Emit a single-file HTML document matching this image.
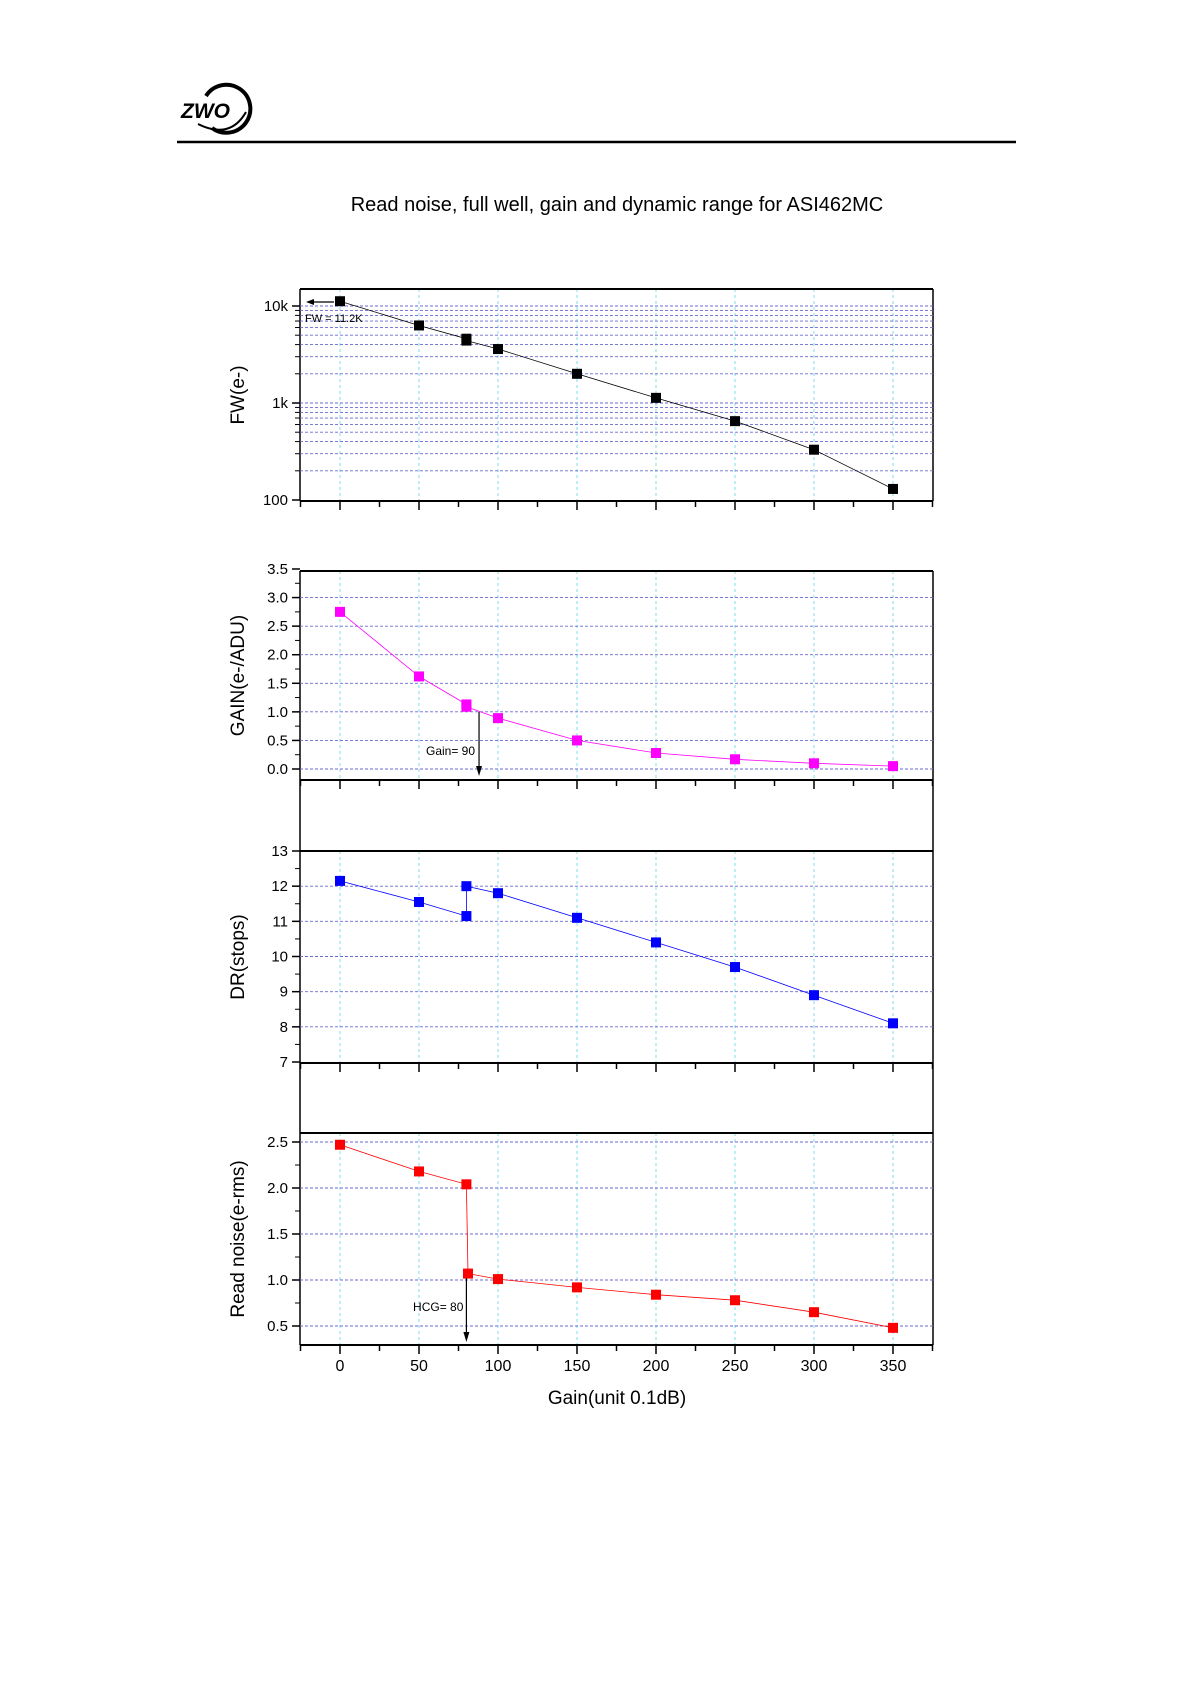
<!DOCTYPE html>
<html><head><meta charset="utf-8"><style>
html,body{margin:0;padding:0;background:#fff;}
svg{display:block;}
text{font-family:"Liberation Sans",sans-serif;}
</style></head><body>
<svg width="1191" height="1684" viewBox="0 0 1191 1684" xmlns="http://www.w3.org/2000/svg">
<!-- logo -->
<path d="M206 96 A24 24 0 1 1 212 128" fill="none" stroke="#000" stroke-width="4"/>
<path d="M198 124 Q230 140 246 112" fill="none" stroke="#000" stroke-width="2"/>
<text x="181" y="118" font-size="21" font-weight="bold" font-style="italic" fill="#000">ZWO</text>
<line x1="177" y1="142" x2="1016" y2="142" stroke="#000" stroke-width="2.5"/>
<text x="617" y="211" font-size="20" text-anchor="middle">Read noise, full well, gain and dynamic range for ASI462MC</text>
<g id="plots"></g>
</svg>
<script>
(function(){
var NS="http://www.w3.org/2000/svg",g=document.getElementById("plots");
function el(t,a,txt){var e=document.createElementNS(NS,t);for(var k in a)e.setAttribute(k,a[k]);if(txt!==undefined)e.textContent=txt;g.appendChild(e);return e;}
var L=300,R=933;function X(v){return 340+v*553/350;}
el("line",{x1:L,y1:289,x2:L,y2:501,stroke:"#000","stroke-width":1.5});
el("line",{x1:R,y1:289,x2:R,y2:501,stroke:"#000","stroke-width":1.5});
el("line",{x1:L,y1:571,x2:L,y2:1345,stroke:"#000","stroke-width":1.5});
el("line",{x1:R,y1:571,x2:R,y2:1345,stroke:"#000","stroke-width":1.5});
function panel(top,bot,yf,ticks,grid,color,data,ylabel,minorTicks){
  for(var v=0;v<=350;v+=50)el("line",{x1:X(v),y1:top,x2:X(v),y2:bot,stroke:"#7fdfe8","stroke-width":1,"stroke-dasharray":"3,3"});
  grid.forEach(function(v){var y=yf(v);el("line",{x1:L,y1:y,x2:R,y2:y,stroke:"#6a6ad0","stroke-width":0.9,"stroke-dasharray":"3,2"});});
  el("line",{x1:L,y1:top,x2:R,y2:top,stroke:"#000","stroke-width":2});
  el("line",{x1:L,y1:bot,x2:R,y2:bot,stroke:"#000","stroke-width":2});
  for(var v=-25;v<=375;v+=25){var x=X(v);if(x<L||x>R)continue;el("line",{x1:x,y1:bot,x2:x,y2:bot+(v%50==0?9:6),stroke:"#000","stroke-width":1.5});}
  ticks.forEach(function(t){var y=yf(t[0]);el("line",{x1:L-8,y1:y,x2:L,y2:y,stroke:"#000","stroke-width":1.5});el("text",{x:L-12,y:y+5,"font-size":15,"text-anchor":"end"},t[1]);});
  (minorTicks||[]).forEach(function(v){var y=yf(v);el("line",{x1:L-5,y1:y,x2:L,y2:y,stroke:"#000","stroke-width":1});});
  var pts=data.map(function(d){return X(d[0]).toFixed(1)+","+yf(d[1]).toFixed(1);}).join(" ");
  el("polyline",{points:pts,fill:"none",stroke:color,"stroke-width":0.8});
  data.forEach(function(d){el("rect",{x:X(d[0])-5,y:yf(d[1])-5,width:10,height:10,fill:color});});
  var cy=(top+bot)/2;el("text",{x:0,y:0,"font-size":19,"text-anchor":"middle",transform:"translate(244,"+cy+") rotate(-90)"},ylabel);
}
var fy=function(v){return 500-97*(Math.log10(v)-2);};
var fgrid=[200,300,400,500,600,700,800,900,1000,2000,3000,4000,5000,6000,7000,8000,9000,10000];
panel(289,501,fy,[[100,"100"],[1000,"1k"],[10000,"10k"]],fgrid,"#000",
 [[0,11200],[50,6300],[80,4600],[80,4400],[100,3600],[150,2000],[200,1130],[250,650],[300,330],[350,130]],"FW(e-)",fgrid);
el("line",{x1:312,y1:302,x2:334,y2:302,stroke:"#000","stroke-width":1.2});
el("polygon",{points:"306,302 314,299 314,305",fill:"#000"});
el("text",{x:305,y:322,"font-size":11},"FW = 11.2K");
var gy=function(v){return 769-v*200/3.5;};
var gt=[];for(var i=0;i<=7;i++)gt.push([i*0.5,(i*0.5).toFixed(1)]);
panel(571,780,gy,gt,[0,0.5,1,1.5,2,2.5,3],"#ff00ff",
 [[0,2.75],[50,1.62],[80,1.13],[80,1.09],[100,0.89],[150,0.5],[200,0.28],[250,0.17],[300,0.1],[350,0.05]],"GAIN(e-/ADU)",[0.25,0.75,1.25,1.75,2.25,2.75,3.25]);
el("line",{x1:X(88),y1:gy(1.0),x2:X(88),y2:772,stroke:"#000","stroke-width":1.2});
el("polygon",{points:X(88)+",776 "+(X(88)-3)+",766 "+(X(88)+3)+",766",fill:"#000"});
el("text",{x:X(88)-4,y:755,"font-size":12,"text-anchor":"end"},"Gain= 90");
var dy=function(v){return 1062-(v-7)*211/6;};
var dt=[];for(var i=7;i<=13;i++)dt.push([i,""+i]);
panel(851,1063,dy,dt,[8,9,10,11,12],"#0000ff",
 [[0,12.15],[50,11.55],[80,11.15],[80,12.0],[100,11.8],[150,11.1],[200,10.4],[250,9.7],[300,8.9],[350,8.1]],"DR(stops)",[7.5,8.5,9.5,10.5,11.5,12.5]);
var ry=function(v){return 1326-(v-0.5)*92;};
var rt=[];for(var i=1;i<=5;i++)rt.push([i*0.5,(i*0.5).toFixed(1)]);
panel(1133,1345,ry,rt,[0.5,1,1.5,2,2.5],"#ff0000",
 [[0,2.47],[50,2.18],[80,2.04],[81,1.07],[100,1.01],[150,0.92],[200,0.84],[250,0.78],[300,0.65],[350,0.48]],"Read noise(e-rms)",[0.75,1.25,1.75,2.25]);
el("line",{x1:X(80),y1:ry(1.02),x2:X(80),y2:1336,stroke:"#000","stroke-width":1.2});
el("polygon",{points:X(80)+",1342 "+(X(80)-3)+",1332 "+(X(80)+3)+",1332",fill:"#000"});
el("text",{x:X(80)-3,y:1311,"font-size":12,"text-anchor":"end"},"HCG= 80");
for(var v=0;v<=350;v+=50)el("text",{x:X(v),y:1371,"font-size":16,"text-anchor":"middle"},""+v);
el("text",{x:617,y:1404,"font-size":19,"text-anchor":"middle"},"Gain(unit 0.1dB)");
})();
</script>
</body></html>
